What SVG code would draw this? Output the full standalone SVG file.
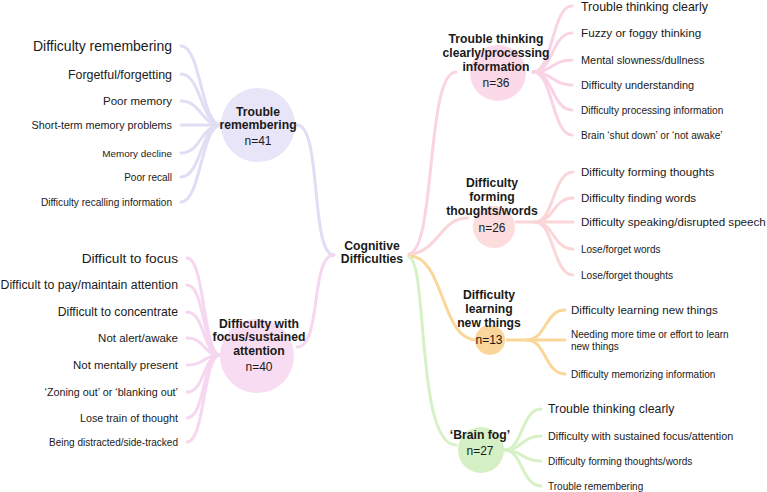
<svg xmlns="http://www.w3.org/2000/svg" width="767" height="492" viewBox="0 0 767 492">
<style>
text{font-family:"Liberation Sans",Arial,sans-serif;fill:#1a1a1a}
.h{font-weight:bold;font-size:12.2px;text-anchor:middle}
.n{font-size:12px;text-anchor:middle}
.r{text-anchor:end}
path{fill:none;stroke-linecap:round}
.lav{stroke:#e1ddf5;stroke-width:3}
.pk1{stroke:#f6d7ef;stroke-width:3}
.pk2{stroke:#fad3e4;stroke-width:3}
.pk3{stroke:#fbd6d8;stroke-width:3}
.org{stroke:#fad798;stroke-width:3}
.grn{stroke:#d7f1c7;stroke-width:3}
</style>
<rect width="767" height="492" fill="#fff"/>
<g id="connectors">
  <path class="lav" d="M297,125 C322,125 310,255 334,255"/>
  <path class="pk1" d="M297,347 C322,347 310,255 334,255"/>
  <path class="pk2" d="M409,254 C436,250 426,72 456,72"/>
  <path class="pk3" d="M409,255 C440,250 440,218 468,218"/>
  <path class="org" d="M409,256 C445,256 440,340 477,340"/>
  <path class="grn" d="M409,257 C428,262 416,445 456,445"/>
  <!-- trouble remembering fan -->
  <path class="lav" d="M181,46 C201,46 201,125 221,125"/>
  <path class="lav" d="M181,74 C201,74 201,125 221,125"/>
  <path class="lav" d="M181,101 C201,101 201,125 221,125"/>
  <path class="lav" d="M181,125 L221,125"/>
  <path class="lav" d="M181,153 C201,153 201,125 221,125"/>
  <path class="lav" d="M181,177 C201,177 201,125 221,125"/>
  <path class="lav" d="M181,202 C201,202 201,125 221,125"/>
  <!-- focus fan -->
  <path class="pk1" d="M187,258 C205,258 203,355 220,355"/>
  <path class="pk1" d="M187,285 C205,285 203,355 220,355"/>
  <path class="pk1" d="M187,312 C205,312 203,355 220,355"/>
  <path class="pk1" d="M187,338 C205,338 203,355 220,355"/>
  <path class="pk1" d="M187,365 C205,365 203,355 220,355"/>
  <path class="pk1" d="M187,392 C205,392 203,355 220,355"/>
  <path class="pk1" d="M187,418 C205,418 203,355 220,355"/>
  <path class="pk1" d="M187,442 C205,442 203,355 220,355"/>
  <!-- trouble thinking fan -->
  <path class="pk2" d="M533,72 C553,72 552,6 572,6"/>
  <path class="pk2" d="M533,72 C553,72 552,33 572,33"/>
  <path class="pk2" d="M533,72 C553,72 552,60 572,60"/>
  <path class="pk2" d="M533,72 C553,72 552,85 572,85"/>
  <path class="pk2" d="M533,72 C553,72 552,110 572,110"/>
  <path class="pk2" d="M533,72 C553,72 552,135 572,135"/>
  <!-- forming fan -->
  <path class="pk3" d="M516,222 L535,222 C554,222 553,172 573,172"/>
  <path class="pk3" d="M535,222 C554,222 553,198 573,198"/>
  <path class="pk3" d="M535,222 L573,222"/>
  <path class="pk3" d="M535,222 C554,222 553,249 573,249"/>
  <path class="pk3" d="M535,222 C554,222 553,275 573,275"/>
  <!-- learning fan -->
  <path class="org" d="M507,340 L527,340 C546,340 545,310 565,310"/>
  <path class="org" d="M527,340 L565,340"/>
  <path class="org" d="M527,340 C546,340 545,374 565,374"/>
  <!-- brain fog fan -->
  <path class="grn" d="M505,450 C522,450 522,409 541,409"/>
  <path class="grn" d="M505,450 C522,450 522,436 541,436"/>
  <path class="grn" d="M505,450 C522,450 522,461 541,461"/>
  <path class="grn" d="M505,450 C522,450 522,486 541,486"/>
</g>
<g id="root">
  <text class="h" x="372" y="250.4">Cognitive</text>
  <text class="h" x="372" y="263.4">Difficulties</text>
</g>
<g id="trouble-remembering">
  <circle cx="258" cy="125" r="37" fill="#e8e5f8"/>
  <text class="h" x="258" y="115.5">Trouble</text>
  <text class="h" x="258" y="128.5">remembering</text>
  <text class="n" x="258" y="144.5">n=41</text>
</g>
<g id="tr-items">
  <text class="r" x="172" y="51" font-size="14">Difficulty remembering</text>
  <text class="r" x="172" y="78.5" font-size="12.4">Forgetful/forgetting</text>
  <text class="r" x="172" y="105" font-size="11.5">Poor memory</text>
  <text class="r" x="172" y="129" font-size="10.8">Short-term memory problems</text>
  <text class="r" x="172" y="156.6" font-size="9.9">Memory decline</text>
  <text class="r" x="172" y="180.6" font-size="10">Poor recall</text>
  <text class="r" x="172" y="205.6" font-size="10.1">Difficulty recalling information</text>
</g>
<g id="focus">
  <circle cx="257" cy="356" r="37" fill="#f8dcf1"/>
  <text class="h" x="259" y="327.5">Difficulty with</text>
  <text class="h" x="259" y="341">focus/sustained</text>
  <text class="h" x="259" y="354.5">attention</text>
  <text class="n" x="259" y="370.5">n=40</text>
</g>
<g id="focus-items">
  <text class="r" x="178" y="263" font-size="13.7">Difficult to focus</text>
  <text class="r" x="178" y="289.4" font-size="12.3">Difficult to pay/maintain attention</text>
  <text class="r" x="178" y="316.4" font-size="12.2">Difficult to concentrate</text>
  <text class="r" x="178" y="342.1" font-size="11.5">Not alert/awake</text>
  <text class="r" x="178" y="369.1" font-size="11.45">Not mentally present</text>
  <text class="r" x="178" y="395.9" font-size="10.76">‘Zoning out’ or ‘blanking out’</text>
  <text class="r" x="178" y="421.9" font-size="10.75">Lose train of thought</text>
  <text class="r" x="178" y="445.6" font-size="10">Being distracted/side-tracked</text>
</g>
<g id="trouble-thinking">
  <circle cx="498" cy="73" r="28" fill="#fcd9e8"/>
  <text class="h" x="496" y="43.4">Trouble thinking</text>
  <text class="h" x="496" y="57.2">clearly/processing</text>
  <text class="h" x="496" y="71">information</text>
  <text class="n" x="496" y="87.4">n=36</text>
</g>
<g id="tt-items">
  <text x="581" y="10.5" font-size="12.4">Trouble thinking clearly</text>
  <text x="581" y="37.2" font-size="11.7">Fuzzy or foggy thinking</text>
  <text x="581" y="64" font-size="10.9">Mental slowness/dullness</text>
  <text x="581" y="89" font-size="10.9">Difficulty understanding</text>
  <text x="581" y="113.6" font-size="10.1">Difficulty processing information</text>
  <text x="581" y="138.6" font-size="10.1">Brain ‘shut down’ or ‘not awake’</text>
</g>
<g id="forming">
  <circle cx="494" cy="227" r="21" fill="#fcdcdc"/>
  <text class="h" x="492" y="187.4">Difficulty</text>
  <text class="h" x="492" y="201.4">forming</text>
  <text class="h" x="492" y="215.4">thoughts/words</text>
  <text class="n" x="492" y="232.4">n=26</text>
</g>
<g id="forming-items">
  <text x="581" y="176.2" font-size="11.6">Difficulty forming thoughts</text>
  <text x="581" y="202.2" font-size="11.6">Difficulty finding words</text>
  <text x="581" y="226.2" font-size="11.6">Difficulty speaking/disrupted speech</text>
  <text x="581" y="252.6" font-size="10">Lose/forget words</text>
  <text x="581" y="278.6" font-size="10.1">Lose/forget thoughts</text>
</g>
<g id="learning">
  <circle cx="490" cy="340" r="15" fill="#fad69b"/>
  <text class="h" x="489" y="299.4">Difficulty</text>
  <text class="h" x="489" y="313.4">learning</text>
  <text class="h" x="489" y="327.4">new things</text>
  <text class="n" x="489" y="344.4">n=13</text>
</g>
<g id="learning-items">
  <text x="571" y="314.2" font-size="11.6">Difficulty learning new things</text>
  <text x="571" y="337.6" font-size="10">Needing more time or effort to learn</text>
  <text x="571" y="349.6" font-size="10">new things</text>
  <text x="571" y="377.6" font-size="10">Difficulty memorizing information</text>
</g>
<g id="brain-fog">
  <circle cx="481" cy="450" r="23" fill="#d5f0c5"/>
  <text class="h" x="480" y="439.4">‘Brain fog’</text>
  <text class="n" x="480" y="455.4">n=27</text>
</g>
<g id="bf-items">
  <text x="548" y="413.4" font-size="12.35">Trouble thinking clearly</text>
  <text x="548" y="439.9" font-size="10.8">Difficulty with sustained focus/attention</text>
  <text x="548" y="464.6" font-size="10">Difficulty forming thoughts/words</text>
  <text x="548" y="489.6" font-size="10">Trouble remembering</text>
</g>
</svg>
